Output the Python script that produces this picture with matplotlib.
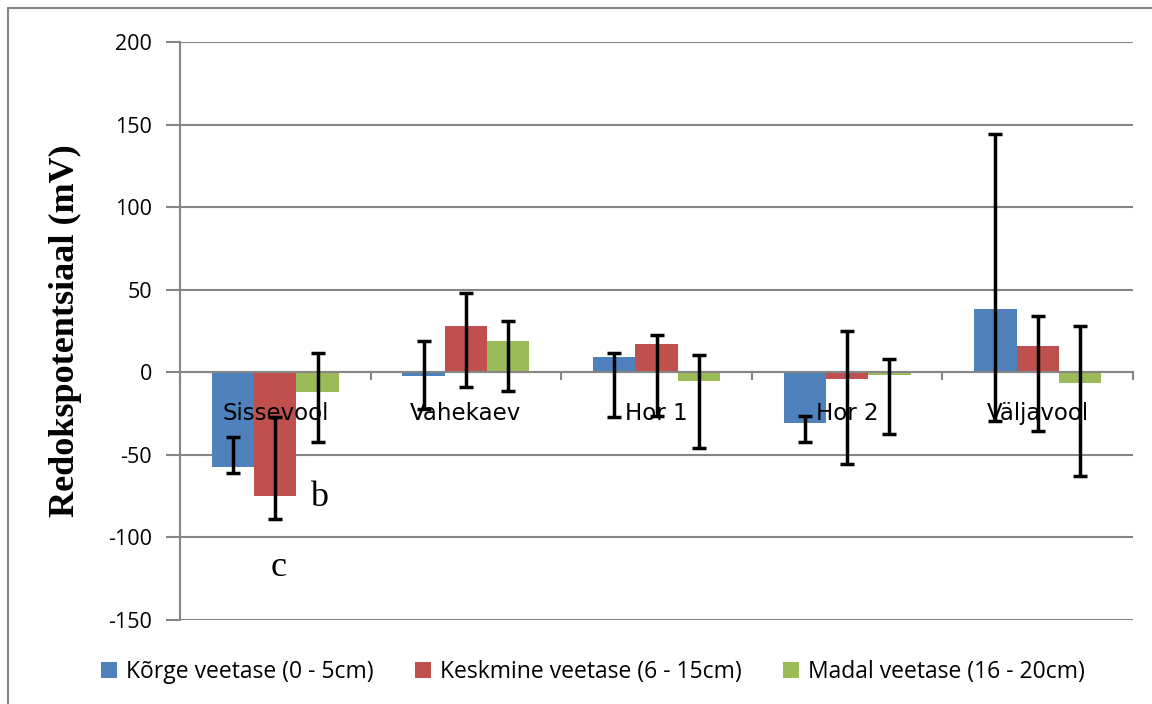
import numpy as np
import matplotlib.pyplot as plt
from matplotlib.patches import Rectangle

# data
categories = ['Sissevool', 'Vahekaev', 'Hor 1', 'Hor 2', 'Väljavool']
series_names = ['Kõrge veetase (0 - 5cm)', 'Keskmine veetase (6 - 15cm)', 'Madal veetase (16 - 20cm)']

korge = [-57.2, -2.0, 9.5, -30.9, 38.4]
korge_hi = [-39.4, 18.8, 11.8, -26.7, 144.5]
korge_lo = [-60.8, -22.0, -27.3, -42.5, -29.7]

keskmine = [-74.9, 28.3, 17.2, -4.2, 16.2]
keskmine_hi = [-26.8, 47.9, 22.8, 24.8, 33.8]
keskmine_lo = [-89.1, -8.7, -26.2, -55.3, -35.3]

madal = [-11.7, 18.8, -5.0, -1.4, -6.4]
madal_hi = [11.5, 31.3, 10.7, 7.9, 27.9]
madal_lo = [-42.0, -11.5, -46.1, -37.3, -63.0]

yticks = [-150, -100, -50, 0, 50, 100, 150, 200]

colors = ['#4F81BD', '#C0504D', '#9BBB59']
grid_col = '#868686'
font = 'Open Sans'

fig = plt.figure(figsize=(11.52, 7.04), dpi=100)
ax = fig.add_axes([180 / 1152, 1 - 620 / 704, 953 / 1152, 578 / 704])

x = np.arange(len(categories))
w = 0.222
series = [(korge, korge_hi, korge_lo), (keskmine, keskmine_hi, keskmine_lo), (madal, madal_hi, madal_lo)]

for i, (vals, hi, lo) in enumerate(series):
    vals = np.array(vals)
    yerr = [vals - np.array(lo), np.array(hi) - vals]
    pos = x + (i - 1) * w
    ax.bar(pos, vals, width=w, color=colors[i], label=series_names[i], zorder=2)
    ax.errorbar(pos, vals, yerr=yerr, fmt='none', ecolor='black', elinewidth=2.5,
                capsize=5, capthick=2.5, zorder=5)

# category labels sit right under the zero line
for i, cat in enumerate(categories):
    ax.text(i, -25, cat, ha='center', va='center', fontsize=16.5, family='DejaVu Sans', zorder=4)

# significance letters
ax.text(0.23, -76, 'b', ha='center', va='center', fontsize=26, family='Liberation Serif', zorder=6)
ax.text(0.02, -118, 'c', ha='center', va='center', fontsize=26, family='Liberation Serif', zorder=6)

ax.set_xlim(-0.5, 4.5)
ax.set_ylim(-150, 200)
ax.set_yticks(yticks)
ax.set_yticklabels([str(t) for t in yticks], family=font, fontsize=15.5)
ax.grid(axis='y', color=grid_col, linewidth=1.5, zorder=0)
ax.set_axisbelow(True)

ax.set_xticks(np.arange(-0.5, 5, 1))
ax.set_xticklabels([])
ax.tick_params(axis='x', direction='out', length=6, width=1.5, color=grid_col)
ax.tick_params(axis='y', direction='out', length=10, width=1.5, color=grid_col, pad=10)

for s in ['top', 'right']:
    ax.spines[s].set_visible(False)
ax.spines['left'].set_color(grid_col)
ax.spines['left'].set_linewidth(1.5)
ax.spines['bottom'].set_position(('data', 0))
ax.spines['bottom'].set_color(grid_col)
ax.spines['bottom'].set_linewidth(1.5)

ax.set_ylabel('Redokspotentsiaal (mV)', family='Liberation Serif', fontweight='bold', fontsize=26)
ax.yaxis.set_label_coords(-0.103, 0.5)

fig.legend(loc='center', bbox_to_anchor=(593 / 1152, 1 - 672 / 704), ncol=3, frameon=False,
           prop={'family': font, 'size': 16.5}, handlelength=0.7, handleheight=0.7,
           handletextpad=0.4, columnspacing=1.8)

# outer chart border
fig.patches.append(Rectangle((8 / 1152, -0.05), 1.2, 1 - 8 / 704 + 0.05, transform=fig.transFigure,
                             fill=False, edgecolor=grid_col, linewidth=1.5))

plt.savefig('out.png', dpi=100)
